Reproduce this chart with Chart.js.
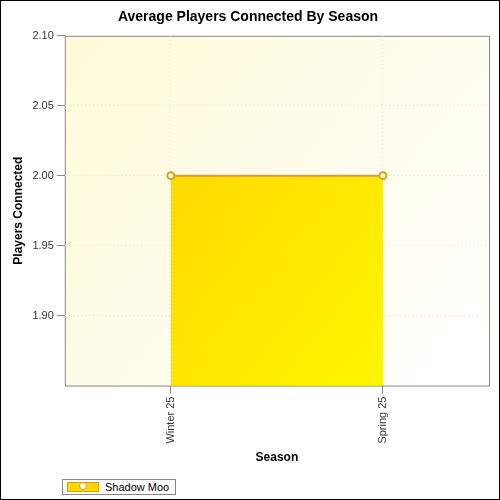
<!DOCTYPE html>
<html>
<head>
<script src="https://cdn.jsdelivr.net/npm/chart.js@4"></script>
<style>
body { margin: 0; background: #fff; }
#wrap { position: relative; width: 498px; height: 498px; border: 1px solid #000; }
#legend { position: absolute; left: 61px; top: 478px; border: 1px solid #888; padding: 1px 6px 1px 4px;
  font: 11px "Liberation Sans", Arial, sans-serif; display: flex; align-items: center; }
#legend .sw { width: 30px; height: 8px; background: #ffd800; border: 1px solid #e0a000; position: relative; margin-right: 6px; }
#legend .sw i { position: absolute; left: 11px; top: -1px; width: 6px; height: 6px; border-radius: 50%; background: #fff; border: 1px solid #e0a000; }
</style>
</head>
<body>
<div id="wrap">
<canvas id="chart" width="498" height="470"></canvas>
<div id="legend"><span class="sw"><i></i></span>Shadow Moo</div>
</div>
<script>
// Données
const seasons = ['Winter 25', 'Spring 25'];
const players = [2.00, 2.00];
const seriesName = 'Shadow Moo';

const plotBackground = {
    id: 'plotBackground',
    beforeDraw(chart) {
        const { ctx, chartArea: a } = chart;
        const g = ctx.createLinearGradient(a.left, a.top, a.right, a.bottom);
        g.addColorStop(0, '#fffbd8');
        g.addColorStop(1, '#ffffff');
        ctx.save();
        ctx.fillStyle = g;
        ctx.fillRect(a.left, a.top, a.right - a.left, a.bottom - a.top);
        ctx.strokeStyle = '#888';
        ctx.strokeRect(a.left + 0.5, a.top + 0.5, a.right - a.left, a.bottom - a.top);
        ctx.restore();
    }
};

const ctx = document.getElementById('chart').getContext('2d');
new Chart(ctx, {
    type: 'line',
    data: {
        labels: seasons,
        datasets: [{
            label: seriesName,
            data: players,
            borderColor: '#e0a000',
            borderWidth: 2,
            pointBackgroundColor: '#fff',
            pointBorderColor: '#e0a000',
            pointRadius: 3.5,
            fill: 'start',
            backgroundColor: (c) => {
                const a = c.chart.chartArea;
                if (!a) return '#ffe000';
                const g = c.chart.ctx.createLinearGradient(a.left, a.top, a.right, a.bottom);
                g.addColorStop(0, '#ffc800');
                g.addColorStop(1, '#ffff00');
                return g;
            }
        }]
    },
    options: {
        responsive: false,
        animation: false,
        layout: { padding: { left: 6, right: 10, top: 0, bottom: 2 } },
        plugins: {
            legend: { display: false },
            title: { display: true, text: 'Average Players Connected By Season', color: '#000',
                font: { family: 'Liberation Sans', size: 14, weight: 'bold' }, padding: { top: 8, bottom: 10 } },
            tooltip: { enabled: false }
        },
        scales: {
            x: {
                offset: true,
                grid: { color: '#ddd', offset: false, drawTicks: true, tickColor: '#888' },
                border: { dash: [1, 3], display: false },
                ticks: { color: '#333', maxRotation: 90, minRotation: 90, font: { family: 'Liberation Sans', size: 11 } },
                title: { display: true, text: 'Season', color: '#000', font: { family: 'Liberation Sans', size: 12, weight: 'bold' } }
            },
            y: {
                min: 1.85, max: 2.10,
                afterBuildTicks: (s) => { s.ticks = [1.90, 1.95, 2.00, 2.05, 2.10].map(v => ({ value: v })); },
                grid: { color: '#ddd', tickColor: '#888' },
                border: { dash: [1, 3], display: false },
                ticks: { color: '#333', callback: (v) => v.toFixed(2), font: { family: 'Liberation Sans', size: 11 } },
                title: { display: true, text: 'Players Connected', color: '#000', font: { family: 'Liberation Sans', size: 12, weight: 'bold' } }
            }
        }
    },
    plugins: [plotBackground]
});
</script>
</body>
</html>
